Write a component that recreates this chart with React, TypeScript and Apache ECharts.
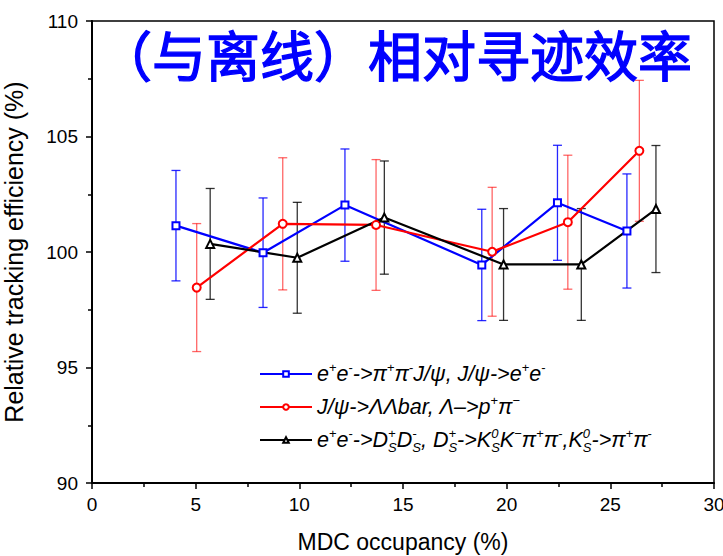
import React, { useEffect, useRef } from "react";
import * as echarts from "echarts";

const xTicks = [0, 5, 10, 15, 20, 25, 30];
const yTicks = [90, 95, 100, 105, 110];

const blueX = [4.05, 8.25, 12.2, 18.8, 22.45, 25.8];
const blueY = [101.14, 99.97, 102.03, 99.44, 102.13, 100.91];
const blueErr = [2.39, 2.37, 2.43, 2.41, 2.49, 2.47];

const redX = [5.05, 9.2, 13.7, 19.3, 22.95, 26.4];
const redY = [98.46, 101.22, 101.17, 100.01, 101.29, 104.38];
const redErr = [2.77, 2.86, 2.83, 2.79, 2.9, 3.05];

const blackX = [5.7, 9.9, 14.1, 19.85, 23.6, 27.2];
const blackY = [100.35, 99.75, 101.49, 99.46, 99.46, 101.86];
const blackErr = [2.4, 2.4, 2.45, 2.42, 2.42, 2.75];

const seriesNames = ["blue", "red", "black"];
const titleText = "（与离线）相对寻迹效率";
const xName = "MDC occupancy (%)";
const yName = "Relative tracking efficiency (%)";

const legendTexts: Record<string, string> = {
  blue: "{t|e}{sup|+}{t|e}{sup|-}{t|->π}{sup|+}{t|π}{sup|-}{t|J/ψ, J/ψ->e}{sup|+}{t|e}{sup|-}",
  red: "{t|J/ψ->ΛΛbar, Λ–>p}{sup|+}{t|π}{sup|−}",
  black:
    "{t|e}{sup|+}{t|e}{sup|-}{t|->D}{supz|+}{sub|S}{t|D}{supz|-}{sub|S}{t|, D}{supz|+}{sub|S}{t|->K}{supz|0}{sub|S}{t|K}{sup|−}{t|π}{sup|+}{t|π}{sup|-}{t|,K}{supz|0}{sub|S}{t|->π}{sup|+}{t|π}{sup|-}",
};

const FONT = "'Liberation Sans', Arial, sans-serif";

function pts(xs: number[], ys: number[]) {
  return xs.map((x, i) => [x, ys[i]]);
}
function errs(xs: number[], ys: number[], es: number[]) {
  return xs.map((x, i) => [x, ys[i] - es[i], ys[i] + es[i]]);
}

function errSeries(data: number[][], color: string, opacity: number) {
  return {
    type: "custom",
    z: 1,
    data,
    encode: { x: 0, y: [1, 2] },
    renderItem: (params: any, api: any) => {
      const x = api.value(0);
      const lo = api.value(1);
      const hi = api.value(2);
      const p1 = api.coord([x, hi]);
      const p2 = api.coord([x, lo]);
      const hw = 4.5;
      const style = { stroke: color, lineWidth: 1.3, opacity };
      return {
        type: "group",
        children: [
          { type: "line", shape: { x1: p1[0], y1: p1[1], x2: p2[0], y2: p2[1] }, style },
          { type: "line", shape: { x1: p1[0] - hw, y1: p1[1], x2: p1[0] + hw, y2: p1[1] }, style },
          { type: "line", shape: { x1: p2[0] - hw, y1: p2[1], x2: p2[0] + hw, y2: p2[1] }, style },
        ],
      };
    },
  };
}

function lineSeries(name: string, data: number[][], color: string, symbol: string, size: number) {
  return {
    name,
    type: "line",
    z: 3,
    data,
    symbol,
    symbolSize: size,
    showAllSymbol: true,
    lineStyle: { color, width: 2.2 },
    itemStyle: { color, borderColor: color, borderWidth: 1 },
  };
}

export default function App() {
  const ref = useRef<HTMLDivElement>(null);
  useEffect(() => {
    if (!ref.current) return;
    const chart = echarts.init(ref.current, undefined, { renderer: "svg" });
    const option: any = {
      animation: false,
      backgroundColor: "#ffffff",
      title: {
        text: titleText,
        left: 93,
        top: 21,
        textStyle: {
          color: "#0000ff",
          fontSize: 54,
          fontWeight: "normal",
          fontFamily: "'Noto Sans CJK SC', sans-serif",
          textBorderColor: "#0000ff",
          textBorderWidth: 1.4,
        },
      },
      grid: {
        left: 92,
        right: 9,
        top: 21,
        bottom: 73,
        show: true,
        borderColor: "#000",
        borderWidth: 1.5,
        backgroundColor: "transparent",
        containLabel: false,
        outerBoundsMode: "none",
      },
      legend: {
        orient: "vertical",
        left: 254,
        top: 356,
        itemWidth: 52,
        itemHeight: 7,
        itemGap: 9,
        data: seriesNames,
        formatter: (name: string) => legendTexts[name],
        textStyle: {
          rich: {
            t: { fontSize: 21.5, fontStyle: "italic", fontFamily: FONT, color: "#000" },
            sup: { fontSize: 13, fontFamily: FONT, color: "#000", padding: [0, 0, 13, 0] },
            supz: { fontSize: 13, fontStyle: "italic", fontFamily: FONT, color: "#000", padding: [0, 0, 13, 0], width: 0.01 },
            sub: { fontSize: 13, fontStyle: "italic", fontFamily: FONT, color: "#000", padding: [15, 0, 0, 0] },
          },
        },
      },
      xAxis: {
        type: "value",
        min: xTicks[0],
        max: xTicks[xTicks.length - 1],
        interval: 5,
        name: xName,
        nameLocation: "middle",
        nameGap: 47,
        nameTextStyle: { fontSize: 23, fontFamily: FONT, color: "#000" },
        axisLine: { show: true, onZero: false, lineStyle: { color: "#000", width: 2 } },
        axisTick: { show: true, inside: false, length: 6, lineStyle: { color: "#000", width: 1.5 } },
        minorTick: { show: true, splitNumber: 2, length: 4, lineStyle: { color: "#000", width: 1.5 } },
        splitLine: { show: false },
        axisLabel: { fontSize: 19, fontFamily: FONT, color: "#000", margin: 12 },
      },
      yAxis: {
        type: "value",
        min: yTicks[0],
        max: yTicks[yTicks.length - 1],
        interval: 5,
        name: yName,
        nameLocation: "middle",
        nameGap: 66,
        nameTextStyle: { fontSize: 25, fontFamily: FONT, color: "#000" },
        axisLine: { show: true, onZero: false, lineStyle: { color: "#000", width: 2 } },
        axisTick: { show: true, inside: false, length: 6, lineStyle: { color: "#000", width: 1.5 } },
        minorTick: { show: true, splitNumber: 2, length: 4, lineStyle: { color: "#000", width: 1.5 } },
        splitLine: { show: false },
        axisLabel: { fontSize: 19, fontFamily: FONT, color: "#000", margin: 14 },
      },
      series: [
        errSeries(errs(blueX, blueY, blueErr), "#0000ff", 0.85),
        errSeries(errs(redX, redY, redErr), "#ff0000", 0.6),
        errSeries(errs(blackX, blackY, blackErr), "#000000", 0.8),
        lineSeries("blue", pts(blueX, blueY), "#0000ff", "emptyRect", 7),
        lineSeries("red", pts(redX, redY), "#ff0000", "emptyCircle", 8),
        lineSeries("black", pts(blackX, blackY), "#000000", "emptyTriangle", 8),
      ],
    };
    chart.setOption(option);
    return () => chart.dispose();
  }, []);
  return (
    <div
      ref={ref}
      style={{ position: "fixed", left: 0, top: 0, width: 723, height: 556, background: "#fff" }}
    />
  );
}
